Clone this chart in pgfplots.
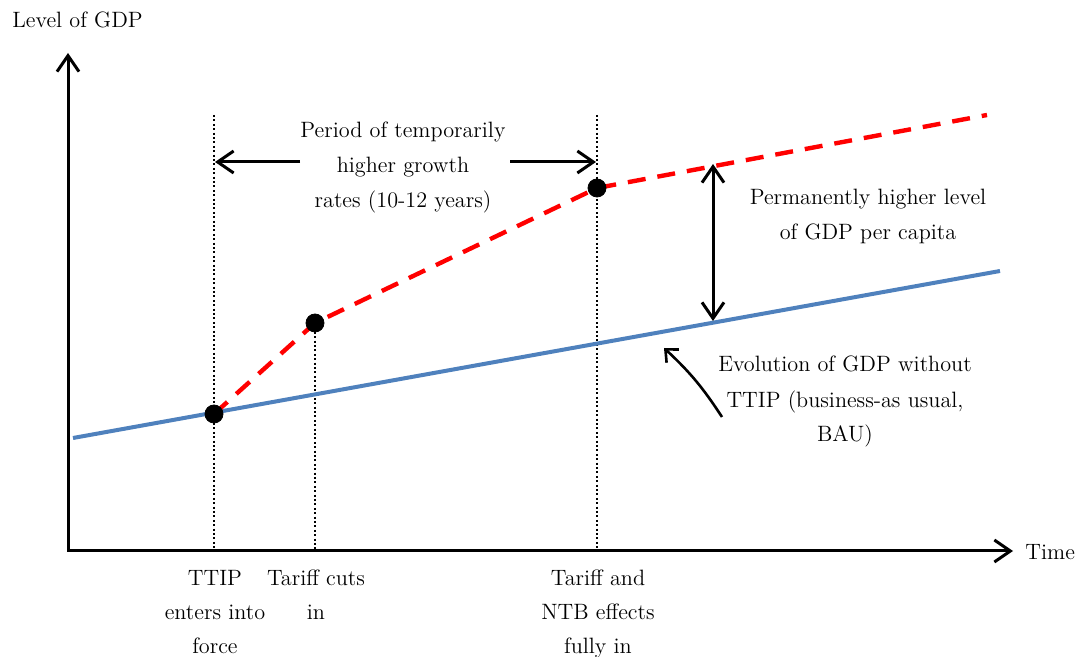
\documentclass[border=0pt]{standalone}
\usepackage{pgfplots}
\pgfplotsset{compat=1.18}
\usetikzlibrary{arrows.meta}
\definecolor{baublue}{HTML}{4F81BD}
\begin{document}
\begin{tikzpicture}[font=\rmfamily\fontsize{11.1pt}{14pt}\selectfont]
\begin{axis}[scale only axis, width=539pt, height=328.5pt,
  xmin=0, xmax=1078, ymin=0, ymax=657, y dir=reverse,
  axis lines=none, clip=false]
% dotted verticals
\draw[line width=0.8pt, dash pattern=on 1pt off 1.2pt] (axis cs:214,115) -- (axis cs:214,551);
\draw[line width=0.8pt, dash pattern=on 1pt off 1.2pt] (axis cs:315,323) -- (axis cs:315,551);
\draw[line width=0.8pt, dash pattern=on 1pt off 1.2pt] (axis cs:597,115) -- (axis cs:597,551);
% axes
\draw[line width=1.5pt, {Straight Barb[length=8pt,width=11pt]}-{Straight Barb[length=8pt,width=11pt]}]
  (axis cs:68,53) -- (axis cs:68,551) -- (axis cs:1013,551);
% BAU line
\addplot[baublue, line width=2pt] coordinates {(73,438) (1000,271)};
% TTIP path
\addplot[red, line width=2.2pt, dash pattern=on 9pt off 6pt] coordinates {(214,414) (315,323) (597,188) (987,115)};
\addplot[only marks, mark=*, mark size=4.5pt, black] coordinates {(214,414) (315,323) (597,188)};
% horizontal arrows
\draw[line width=1.5pt, -{Straight Barb[length=8pt,width=11pt]}] (axis cs:300,162) -- (axis cs:215,162);
\draw[line width=1.5pt, -{Straight Barb[length=8pt,width=11pt]}] (axis cs:510,162) -- (axis cs:596,162);
% vertical double arrow
\draw[line width=1.5pt, {Straight Barb[length=8pt,width=11pt]}-{Straight Barb[length=8pt,width=11pt]}] (axis cs:713,164) -- (axis cs:713,321);
% curved arrow
\draw[line width=1.3pt, -{Straight Barb[length=5pt,width=9pt]}] (axis cs:722,417) to[bend right=7] (axis cs:664,348);
% texts
\tikzset{lbl/.style={inner sep=0pt, anchor=base}}
\node[inner sep=0pt, anchor=base west] at (axis cs:12,28) {Level of GDP};
\node[inner sep=0pt, anchor=base west] at (axis cs:1025,560) {Time};
\node[lbl] at (axis cs:403,138) {Period of temporarily};
\node[lbl] at (axis cs:403,173) {higher growth};
\node[lbl] at (axis cs:403,208) {rates (10-12 years)};
\node[lbl] at (axis cs:868,205) {Permanently higher level};
\node[lbl] at (axis cs:868,240) {of GDP per capita};
\node[lbl] at (axis cs:845,372) {Evolution of GDP without};
\node[lbl] at (axis cs:845,408) {TTIP (business-as usual,};
\node[lbl] at (axis cs:845,442) {BAU)};
\node[lbl] at (axis cs:215,586) {TTIP};
\node[lbl] at (axis cs:215,620) {enters into};
\node[lbl] at (axis cs:215,654) {force};
\node[lbl] at (axis cs:316,586) {Tariff cuts};
\node[lbl] at (axis cs:316,620) {in};
\node[lbl] at (axis cs:598,586) {Tariff and};
\node[lbl] at (axis cs:598,620) {NTB effects};
\node[lbl] at (axis cs:598,654) {fully in};
\end{axis}
\pgfresetboundingbox
\path[use as bounding box] (0,0) rectangle (539pt,328.5pt);
\end{tikzpicture}
\end{document}
